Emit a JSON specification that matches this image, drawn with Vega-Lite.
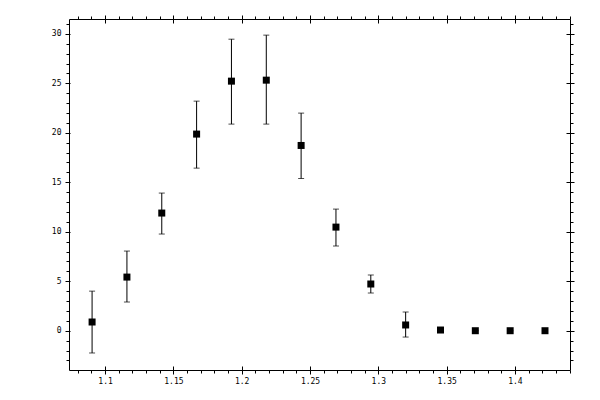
{
  "$schema": "https://vega.github.io/schema/vega-lite/v6.json",
  "autosize": "none",
  "width": 501,
  "height": 351,
  "padding": {"left": 69, "top": 19, "right": 30, "bottom": 30},
  "background": "white",
  "config": {
    "view": {"stroke": null},
    "axis": {
      "grid": false,
      "title": null,
      "domainColor": "black",
      "domainWidth": 1,
      "tickColor": "black",
      "tickWidth": 1,
      "labelColor": "black",
      "labelFont": "DejaVu Sans Mono",
      "labelFontSize": 8
    }
  },
  "data": {
    "values": [
      {"x": 1.0905, "y": 0.88, "lo": -2.25, "hi": 4.0},
      {"x": 1.116, "y": 5.42, "lo": 2.9, "hi": 8.05},
      {"x": 1.1415, "y": 11.89, "lo": 9.77, "hi": 13.91},
      {"x": 1.167, "y": 19.87, "lo": 16.43, "hi": 23.2},
      {"x": 1.1925, "y": 25.22, "lo": 20.88, "hi": 29.46},
      {"x": 1.218, "y": 25.32, "lo": 20.88, "hi": 29.87},
      {"x": 1.2435, "y": 18.72, "lo": 15.38, "hi": 21.99},
      {"x": 1.269, "y": 10.47, "lo": 8.56, "hi": 12.29},
      {"x": 1.2945, "y": 4.72, "lo": 3.81, "hi": 5.63},
      {"x": 1.32, "y": 0.58, "lo": -0.64, "hi": 1.89},
      {"x": 1.3455, "y": 0.07, "lo": 0.07, "hi": 0.07},
      {"x": 1.371, "y": 0.0, "lo": 0.0, "hi": 0.0},
      {"x": 1.3965, "y": 0.0, "lo": 0.0, "hi": 0.0},
      {"x": 1.422, "y": 0.0, "lo": 0.0, "hi": 0.0}
    ]
  },
  "resolve": {"axis": {"x": "independent", "y": "independent"}},
  "layer": [
    {
      "mark": {"type": "rule", "color": "black", "strokeWidth": 1},
      "encoding": {
        "x": {
          "field": "x", "type": "quantitative",
          "scale": {"domain": [1.0736, 1.4403], "nice": false, "zero": false},
          "axis": {
            "orient": "bottom",
            "values": [1.08, 1.09, 1.1, 1.11, 1.12, 1.13, 1.14, 1.15, 1.16, 1.17, 1.18, 1.19, 1.2, 1.21, 1.22, 1.23, 1.24, 1.25, 1.26, 1.27, 1.28, 1.29, 1.3, 1.31, 1.32, 1.33, 1.34, 1.35, 1.36, 1.37, 1.38, 1.39, 1.4, 1.41, 1.42, 1.43, 1.44],
            "format": "~g",
            "labelExpr": "abs(datum.value*20 - round(datum.value*20)) < 1e-6 ? datum.label : ''",
            "tickSize": {"condition": {"test": "abs(datum.value*20 - round(datum.value*20)) < 1e-6", "value": 4}, "value": 3},
            "labelPadding": 3
          }
        },
        "y": {
          "field": "lo", "type": "quantitative",
          "scale": {"domain": [-3.97, 31.5], "nice": false, "zero": false},
          "axis": {
            "orient": "left",
            "values": [-3, -2, -1, 0, 1, 2, 3, 4, 5, 6, 7, 8, 9, 10, 11, 12, 13, 14, 15, 16, 17, 18, 19, 20, 21, 22, 23, 24, 25, 26, 27, 28, 29, 30, 31],
            "format": "~g",
            "labelExpr": "datum.value % 5 == 0 ? datum.label : ''",
            "tickSize": {"condition": {"test": "datum.value % 5 == 0", "value": 4}, "value": 3},
            "labelPadding": 4
          }
        },
        "y2": {"field": "hi"}
      }
    },
    {
      "mark": {"type": "tick", "orient": "horizontal", "color": "black", "size": 6, "thickness": 1},
      "encoding": {
        "x": {
          "field": "x", "type": "quantitative",
          "scale": {"domain": [1.0736, 1.4403], "nice": false, "zero": false},
          "axis": {"orient": "bottom", "values": [1.1, 1.15, 1.2, 1.25, 1.3, 1.35, 1.4], "labels": false, "domain": false, "tickSize": -4}
        },
        "y": {
          "field": "lo", "type": "quantitative",
          "scale": {"domain": [-3.97, 31.5], "nice": false, "zero": false},
          "axis": {"orient": "left", "values": [0, 5, 10, 15, 20, 25, 30], "labels": false, "domain": false, "tickSize": -1}
        }
      }
    },
    {
      "mark": {"type": "tick", "orient": "horizontal", "color": "black", "size": 6, "thickness": 1},
      "encoding": {
        "x": {
          "field": "x", "type": "quantitative",
          "scale": {"domain": [1.0736, 1.4403], "nice": false, "zero": false},
          "axis": {
            "orient": "top",
            "values": [1.08, 1.09, 1.1, 1.11, 1.12, 1.13, 1.14, 1.15, 1.16, 1.17, 1.18, 1.19, 1.2, 1.21, 1.22, 1.23, 1.24, 1.25, 1.26, 1.27, 1.28, 1.29, 1.3, 1.31, 1.32, 1.33, 1.34, 1.35, 1.36, 1.37, 1.38, 1.39, 1.4, 1.41, 1.42, 1.43, 1.44],
            "labels": false,
            "tickSize": {"condition": {"test": "abs(datum.value*20 - round(datum.value*20)) < 1e-6", "value": 4}, "value": 3}
          }
        },
        "y": {
          "field": "hi", "type": "quantitative",
          "scale": {"domain": [-3.97, 31.5], "nice": false, "zero": false},
          "axis": {
            "orient": "right",
            "values": [-3, -2, -1, 0, 1, 2, 3, 4, 5, 6, 7, 8, 9, 10, 11, 12, 13, 14, 15, 16, 17, 18, 19, 20, 21, 22, 23, 24, 25, 26, 27, 28, 29, 30, 31],
            "labels": false,
            "tickSize": {"condition": {"test": "datum.value % 5 == 0", "value": 4}, "value": 3}
          }
        }
      }
    },
    {
      "mark": {"type": "point", "shape": "square", "filled": true, "color": "black", "opacity": 1, "size": 49},
      "encoding": {
        "x": {
          "field": "x", "type": "quantitative",
          "scale": {"domain": [1.0736, 1.4403], "nice": false, "zero": false},
          "axis": {"orient": "top", "values": [1.1, 1.15, 1.2, 1.25, 1.3, 1.35, 1.4], "labels": false, "domain": false, "tickSize": -4}
        },
        "y": {
          "field": "y", "type": "quantitative",
          "scale": {"domain": [-3.97, 31.5], "nice": false, "zero": false},
          "axis": {"orient": "right", "values": [0, 5, 10, 15, 20, 25, 30], "labels": false, "domain": false, "tickSize": -4}
        }
      }
    }
  ]
}
